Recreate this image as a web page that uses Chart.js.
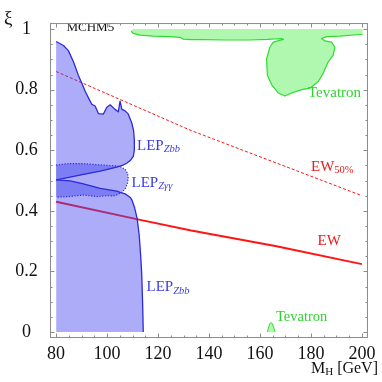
<!DOCTYPE html>
<html><head><meta charset="utf-8">
<script src="https://cdn.jsdelivr.net/npm/chart.js@4.4.1/dist/chart.umd.min.js"></script>
<style>html,body{margin:0;padding:0;background:#fff}</style>
</head><body>
<canvas id="c" width="382" height="382" style="width:382px;height:382px;display:block"></canvas>
<script>
// ---- data ----
const xTicks = [80, 100, 120, 140, 160, 180, 200];
const yTicks = [0, 0.2, 0.4, 0.6, 0.8, 1];
const ewLine = [[80,0.430],[113,0.370],[133,0.335],[166,0.284],[200,0.224]];
const ew50Line = [[80,0.860],[105,0.768],[133,0.665],[172,0.540],[200,0.450]];
const zbbUpperEdge = [[80,0.502],[85.5,0.511],[90.7,0.520],[97.3,0.531],[103.8,0.544],[106,0.550],[107.7,0.557],[109,0.565],[110.3,0.580],[110.7,0.600],[110.7,0.634],[110.4,0.665],[109.7,0.690],[108.3,0.720],[107.1,0.730],[105.8,0.735],[105.1,0.762],[104.4,0.727],[103.1,0.735],[101.2,0.750],[99.9,0.742],[98.5,0.719],[96.6,0.721],[95.3,0.746],[94,0.752],[92.7,0.773],[91.4,0.795],[90.1,0.821],[88.7,0.848],[86.8,0.892],[84.8,0.929],[82.9,0.946],[80,0.959]];
const zbbLowerEdge = [[80,0.502],[85.5,0.499],[90.7,0.489],[97.3,0.474],[103.8,0.465],[105.1,0.461],[107.1,0.456],[109,0.445],[109.8,0.435],[110.8,0.410],[111.8,0.375],[112.6,0.320],[113.2,0.250],[113.6,0.190],[114,0.080],[114.2,0]];
const zggEdge = [[80,0.551],[85,0.556],[90,0.556],[95,0.553],[100,0.550],[103.8,0.548],[105.5,0.545],[107.1,0.537],[108.1,0.523],[108.3,0.508],[108,0.490],[107.1,0.472],[105.8,0.461],[104,0.453],[102.5,0.449],[100,0.450],[96,0.447],[90.7,0.452],[85,0.447],[80,0.445]];
const tevTopEdge = [[109.5,0.993],[110.2,0.986],[112.9,0.980],[118,0.977],[124.7,0.975],[128.6,0.973],[129.9,0.967],[133,0.965],[137.8,0.965],[146,0.964],[156.1,0.964],[163,0.966],[168.5,0.969],[169.2,0.966],[165.2,0.957],[163.9,0.940],[162.6,0.902],[162.9,0.848],[164.6,0.816],[167.2,0.789],[169.8,0.779],[172.4,0.789],[176.4,0.800],[179.6,0.805],[182.9,0.827],[184.8,0.854],[186.8,0.892],[188.7,0.913],[189.4,0.940],[188.1,0.957],[185.5,0.961],[184.2,0.969],[186.2,0.975],[191.4,0.977],[200.3,0.983]];
const tevTopCap = [[200.3,1.0],[110.3,1.0],[109.5,0.997]];
const tevSmall = [[162.9,0],[163.5,0.018],[164.0,0.029],[164.4,0.031],[164.9,0.027],[165.5,0.012],[165.9,0]];

const toXY = a => a.map(p => ({x: p[0], y: p[1]}));
const BLUE_FILL = 'rgba(70,70,240,0.45)';
const BLUE_LINE = '#2b2bd9';
const GREEN_FILL = 'rgba(150,245,150,0.75)';
const GREEN_LINE = '#2fdc2f';
const RED = '#ff1414';
const SERIF = "'Liberation Serif', 'DejaVu Serif', serif";

const base = {showLine: true, pointRadius: 0, pointHoverRadius: 0, tension: 0, borderJoinStyle: 'round', fill: false};

const datasets = [
  Object.assign({}, base, {data: toXY(ewLine), borderColor: RED, borderWidth: 2, order: 10}),
  Object.assign({}, base, {data: toXY(ew50Line), borderColor: RED, borderWidth: 1, borderDash: [3, 2], order: 10}),
  Object.assign({}, base, {data: toXY(zbbUpperEdge), fill: 'shape', backgroundColor: BLUE_FILL, borderWidth: 0, borderColor: 'rgba(0,0,0,0)', order: 5}),
  Object.assign({}, base, {data: toXY(zbbLowerEdge), fill: 'origin', backgroundColor: BLUE_FILL, borderWidth: 0, borderColor: 'rgba(0,0,0,0)', order: 5}),
  Object.assign({}, base, {data: toXY(zggEdge), fill: 'shape', backgroundColor: BLUE_FILL, borderWidth: 0, borderColor: 'rgba(0,0,0,0)', order: 5}),
  Object.assign({}, base, {data: toXY(zbbUpperEdge), borderColor: BLUE_LINE, borderWidth: 1.3, order: 2}),
  Object.assign({}, base, {data: toXY(zbbLowerEdge), borderColor: BLUE_LINE, borderWidth: 1.3, order: 2}),
  Object.assign({}, base, {data: toXY(zggEdge), borderColor: BLUE_LINE, borderWidth: 1.2, borderDash: [1.2, 1.6], order: 2}),
  Object.assign({}, base, {data: toXY(tevTopEdge.concat(tevTopCap)), fill: 'shape', backgroundColor: GREEN_FILL, borderWidth: 0, borderColor: 'rgba(0,0,0,0)', order: 5}),
  Object.assign({}, base, {data: toXY(tevTopEdge), borderColor: GREEN_LINE, borderWidth: 1.2, order: 2}),
  Object.assign({}, base, {data: toXY(tevSmall), fill: 'origin', backgroundColor: GREEN_FILL, borderColor: GREEN_LINE, borderWidth: 1, order: 2})
];

function drawRich(ctx, x, y, parts, color) {
  ctx.save();
  ctx.fillStyle = color;
  ctx.textBaseline = 'middle';
  ctx.textAlign = 'left';
  let cx = x;
  for (const p of parts) {
    ctx.font = (p.style || '') + ' ' + p.size + 'px ' + SERIF;
    ctx.fillText(p.t, cx, y + (p.dy || 0));
    cx += ctx.measureText(p.t).width;
  }
  ctx.restore();
  return cx - x;
}

const framePlugin = {
  id: 'frame',
  afterDraw(chart) {
    const {ctx, chartArea: a, scales} = chart;
    const xs = scales.x, ys = scales.y;
    ctx.save();
    ctx.strokeStyle = '#8c8c8c';
    ctx.lineWidth = 1;
    ctx.strokeRect(a.left + 0.5, a.top + 0.5, a.right - a.left - 1, a.bottom - a.top - 1);
    ctx.beginPath();
    for (let v = 80; v <= 200.001; v += 5) {
      const px = Math.round(xs.getPixelForValue(v)) + 0.5;
      const L = (Math.abs(v % 20) < 0.01) ? 4.5 : 2.5;
      ctx.moveTo(px, a.bottom); ctx.lineTo(px, a.bottom - L);
      ctx.moveTo(px, a.top); ctx.lineTo(px, a.top + L);
    }
    for (let i = 0; i <= 20; i++) {
      const v = i * 0.05;
      const py = Math.round(ys.getPixelForValue(v)) + 0.5;
      const L = (i % 4 === 0) ? 4.5 : 2.5;
      ctx.moveTo(a.left, py); ctx.lineTo(a.left + L, py);
      ctx.moveTo(a.right, py); ctx.lineTo(a.right - L, py);
    }
    ctx.stroke();
    ctx.restore();
  },
  afterDatasetsDraw(chart) {
    const ctx = chart.ctx;
    const BL = '#3c3ce6', GR = '#2fd22f', RD = '#e81c1c';
    drawRich(ctx, 66.5, 28, [{t: 'MCHM5', size: 13}], '#111');
    drawRich(ctx, 137, 146, [{t: 'LEP', size: 15}, {t: 'Zbb', size: 10.5, style: 'italic', dy: 3.5}], BL);
    drawRich(ctx, 131.5, 183, [{t: 'LEP', size: 15}, {t: 'Z\u03b3\u03b3', size: 10.5, style: 'italic', dy: 3.5}], BL);
    drawRich(ctx, 146.5, 287.5, [{t: 'LEP', size: 15}, {t: 'Zbb', size: 10.5, style: 'italic', dy: 3.5}], BL);
    drawRich(ctx, 311, 167, [{t: 'EW', size: 15}, {t: '50%', size: 10.5, dy: 3.5}], RD);
    drawRich(ctx, 317.5, 241, [{t: 'EW', size: 15}], RD);
    drawRich(ctx, 308, 93, [{t: 'Tevatron', size: 15}], GR);
    drawRich(ctx, 276, 317.5, [{t: 'Tevatron', size: 14.5}], GR);
    drawRich(ctx, 4, 19, [{t: '\u03be', size: 19}], '#111');
    // x-axis title, right aligned at 378
    ctx.save();
    const parts = [{t: 'M', size: 16}, {t: 'H', size: 11, dy: 3.5}, {t: ' [GeV]', size: 16}];
    let w = 0;
    for (const p of parts) { ctx.font = p.size + 'px ' + SERIF; w += ctx.measureText(p.t).width; }
    ctx.restore();
    drawRich(ctx, 378 - w, 369, parts, '#111');
  }
};

Chart.defaults.font.family = SERIF;
Chart.defaults.color = '#111';

new Chart(document.getElementById('c'), {
  type: 'scatter',
  data: {datasets},
  options: {
    responsive: false,
    animation: false,
    devicePixelRatio: 1,
    layout: {padding: {top: 17.5, right: 14, left: 0, bottom: 0}},
    plugins: {legend: {display: false}, tooltip: {enabled: false}},
    scales: {
      x: {
        type: 'linear', min: 77.6, max: 202.4,
        grid: {display: false, drawTicks: false},
        border: {display: false},
        afterBuildTicks: s => { s.ticks = xTicks.map(v => ({value: v})); },
        afterFit: s => { s.height = 44; },
        ticks: {font: {size: 18, family: SERIF}, color: '#111', padding: 5, maxRotation: 0, autoSkip: false,
          callback: v => String(v)}
      },
      y: {
        type: 'linear', min: -0.02, max: 1.02,
        grid: {display: false, drawTicks: false},
        border: {display: false},
        afterBuildTicks: s => { s.ticks = yTicks.map(v => ({value: v})); },
        afterFit: s => { s.width = 50; },
        ticks: {font: {size: 18, family: SERIF}, color: '#111', padding: 12.25, crossAlign: 'center', autoSkip: false,
          callback: v => String(+Number(v).toFixed(2))}
      }
    }
  },
  plugins: [framePlugin]
});
</script>
</body></html>
